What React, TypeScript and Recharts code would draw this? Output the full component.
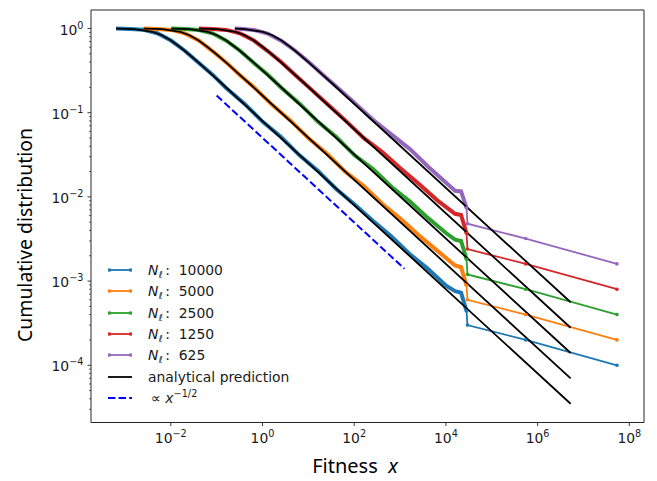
import { LineChart, Line, XAxis, YAxis, ReferenceArea } from 'recharts';

type P = [number, number];

// empirical cumulative distributions, dense part (x, P(X > x))
const blueBody: P[] = [
  [6.4e-4, 1.0], [1.28e-3, 0.99], [2.55e-3, 0.965], [5.08e-3, 0.88], [0.0101, 0.72],
  [0.0202, 0.545], [0.0404, 0.392], [0.0805, 0.285], [0.161, 0.197], [0.404, 0.128],
  [1.01, 0.078], [2.55, 0.0515], [6.4, 0.0312], [16.1, 0.0205], [40.4, 0.0124],
  [101, 0.0082], [255, 0.0052], [640, 0.0034], [1610, 0.0021], [4040, 0.0014],
  [10100, 0.00088], [15850, 0.00076], [21400, 0.00073], [28200, 0.00044],
];
const orangeBody: P[] = [
  [2.56e-3, 1.0], [5.12e-3, 0.99], [0.0102, 0.963], [0.0203, 0.875], [0.0406, 0.722],
  [0.0809, 0.54], [0.1615, 0.396], [0.322, 0.279], [0.643, 0.202], [1.615, 0.124],
  [4.06, 0.081], [10.2, 0.0495], [25.6, 0.0325], [64.3, 0.0198], [161.5, 0.0135],
  [406, 0.0083], [1020, 0.0055], [2560, 0.0035], [6430, 0.0023], [15850, 0.00153],
  [21400, 0.00146], [28200, 0.00089],
];
const greenBody: P[] = [
  [0.01024, 1.0], [0.0205, 0.99], [0.0408, 0.962], [0.0813, 0.878], [0.162, 0.716],
  [0.324, 0.545], [0.646, 0.39], [1.29, 0.284], [2.57, 0.198], [6.46, 0.128],
  [16.2, 0.078], [40.8, 0.0515], [102, 0.0312], [257, 0.0215], [646, 0.0132],
  [1620, 0.0089], [4080, 0.0056], [10200, 0.0037], [15850, 0.0031], [21400, 0.003],
  [28200, 0.00182],
];
const redBody: P[] = [
  [0.041, 1.0], [0.082, 0.99], [0.163, 0.963], [0.325, 0.876], [0.649, 0.72],
  [1.296, 0.54], [2.586, 0.397], [5.16, 0.28], [10.3, 0.2], [25.9, 0.127],
  [64.9, 0.0805], [163, 0.0498], [410, 0.034], [1030, 0.0218], [2590, 0.0142],
  [6490, 0.0091], [15850, 0.0063], [21400, 0.0061], [28200, 0.0037],
];
const purpleBody: P[] = [
  [0.249, 1.0], [0.327, 0.993], [0.654, 0.962], [1.3, 0.872], [2.6, 0.712],
  [5.19, 0.545], [10.3, 0.398], [20.7, 0.283], [41.2, 0.203], [103.5, 0.13],
  [260, 0.082], [653, 0.055], [1640, 0.037], [4120, 0.0228], [10350, 0.0145],
  [15850, 0.0118], [21400, 0.0116], [28200, 0.0074],
];

// sparse tails after the jump
const blueTail: P[] = [[28200, 0.00044], [29500, 0.0003], [550000, 0.0002], [5.37e7, 0.0001]];
const orangeTail: P[] = [[28200, 0.00089], [29500, 0.0006], [550000, 0.0004], [5.37e7, 0.0002]];
const greenTail: P[] = [[28200, 0.00182], [29500, 0.0012], [550000, 0.0008], [5.37e7, 0.0004]];
const redTail: P[] = [[28200, 0.0037], [29500, 0.0024], [550000, 0.0016], [5.37e7, 0.0008]];
const purpleTail: P[] = [[28200, 0.0074], [29500, 0.0048], [550000, 0.0032], [5.37e7, 0.0016]];

// analytical prediction curves
const blueTheory: P[] = [
  [6.4e-4, 0.998], [1.61e-3, 0.984], [4.04e-3, 0.912], [6.4e-3, 0.832], [0.01014, 0.72],
  [0.01606, 0.6], [0.0255, 0.488], [0.0404, 0.394], [0.064, 0.314], [0.1277, 0.224],
  [0.255, 0.158], [5.25e6, 3.49e-5],
];
const orangeTheory: P[] = [
  [2.56e-3, 0.998], [6.43e-3, 0.984], [0.01616, 0.912], [0.0256, 0.832], [0.0406, 0.72],
  [0.0642, 0.6], [0.102, 0.488], [0.1616, 0.394], [0.256, 0.314], [0.511, 0.224],
  [1.02, 0.158], [5.25e6, 6.98e-5],
];
const greenTheory: P[] = [
  [0.01024, 0.998], [0.0257, 0.984], [0.0646, 0.912], [0.1024, 0.832], [0.162, 0.72],
  [0.257, 0.6], [0.408, 0.488], [0.646, 0.394], [1.024, 0.314], [2.04, 0.224],
  [4.08, 0.158], [5.25e6, 1.4e-4],
];
const redTheory: P[] = [
  [0.041, 0.998], [0.103, 0.984], [0.258, 0.912], [0.41, 0.832], [0.649, 0.72],
  [1.03, 0.6], [1.63, 0.488], [2.58, 0.394], [4.1, 0.314], [8.17, 0.224],
  [16.3, 0.158], [5.25e6, 2.79e-4],
];
const purpleTheory: P[] = [
  [0.249, 0.996], [0.412, 0.984], [1.03, 0.912], [1.64, 0.832], [2.6, 0.72],
  [4.12, 0.6], [6.53, 0.488], [10.3, 0.394], [16.4, 0.314], [32.7, 0.224],
  [65.3, 0.158], [5.25e6, 5.6e-4],
];

// reference slope x^(-1/2)
const slopeGuide: P[] = [[0.1, 0.16], [1250, 0.0014]];

const seriesLabels = ['10000', '5000', '2500', '1250', '625'];
const seriesColors = ['#1f77b4', '#ff7f0e', '#2ca02c', '#d62728', '#9467bd'];
const bodies = [blueBody, orangeBody, greenBody, redBody, purpleBody];
const tails = [blueTail, orangeTail, greenTail, redTail, purpleTail];
const theories = [blueTheory, orangeTheory, greenTheory, redTheory, purpleTheory];

const xTicks = [1e-2, 1, 1e2, 1e4, 1e6, 1e8];
const yMajorTicks = [1e-4, 1e-3, 1e-2, 1e-1, 1];
const yMinorTicks = [-5, -4, -3, -2, -1]
  .flatMap((d) => [2, 3, 4, 5, 6, 7, 8, 9].map((s) => s * Math.pow(10, d)))
  .filter((v) => v > 2.1e-5);

const xDomain: [number, number] = [1.82e-4, 2.09e8];
const yDomain: [number, number] = [2.09e-5, 1.66];

const FONT = 'DejaVu Sans';
const pts = (a: P[]) => a.map(([x, y]) => ({ x, y }));
const expLabel = (v: number) => {
  const e = Math.round(Math.log10(v));
  return e < 0 ? '\u2212' + -e : String(e);
};

const XTick = ({ x, y, payload }: any) => (
  <g>
    <line x1={x} x2={x} y1={y} y2={y + 3.5} stroke="#222" strokeWidth={0.9} />
    <text x={x} y={y + 20.5} textAnchor="middle" fontFamily={FONT} fontSize={13.9} fill="#1a1a1a">
      10<tspan dy={-6} fontSize={9.7}>{expLabel(payload.value)}</tspan>
    </text>
  </g>
);

const YTick = ({ x, y, payload }: any) => {
  const major = yMajorTicks.includes(payload.value);
  return (
    <g>
      <line x1={x} x2={x - (major ? 3.5 : 2)} y1={y} y2={y} stroke="#222" strokeWidth={major ? 0.9 : 0.7} />
      {major && (
        <text x={x - 7.5} y={y + 6} textAnchor="end" fontFamily={FONT} fontSize={13.9} fill="#1a1a1a">
          10<tspan dy={-6} fontSize={9.7}>{expLabel(payload.value)}</tspan>
        </text>
      )}
    </g>
  );
};

const Handle = ({ color, dots, dashed }: { color: string; dots?: boolean; dashed?: boolean }) => (
  <svg width={24} height={10} style={{ display: 'block' }}>
    <line x1={0} x2={24} y1={5} y2={5} stroke={color} strokeWidth={dashed ? 2 : 1.8}
      strokeDasharray={dashed ? '7.4 3.2' : undefined} />
    {dots && <circle cx={1.5} cy={5} r={1.8} fill={color} />}
    {dots && <circle cx={22.5} cy={5} r={1.8} fill={color} />}
  </svg>
);

const rowStyle = { height: 21.33, display: 'flex', alignItems: 'center' } as const;
const textStyle = { marginLeft: 16, whiteSpace: 'nowrap' } as const;

function ChartLegend() {
  return (
    <div style={{ position: 'absolute', left: 100, top: 251.3, fontFamily: FONT, fontSize: 13.9, color: '#1a1a1a' }}>
      {seriesLabels.map((lab, i) => (
        <div key={lab} style={rowStyle}>
          <Handle color={seriesColors[i]} dots />
          <span style={textStyle}>
            <i>N</i>
            <i style={{ fontSize: 9.7, position: 'relative', top: 3 }}>ℓ</i>
            {'\u2009:\u00a0\u00a0' + lab}
          </span>
        </div>
      ))}
      <div style={rowStyle}>
        <Handle color="#000" />
        <span style={textStyle}>analytical prediction</span>
      </div>
      <div style={rowStyle}>
        <Handle color="#0000ff" dashed />
        <span style={{ ...textStyle, marginLeft: 19 }}>
          <span style={{ fontSize: 13.9 }}>∝</span> <i>x</i>
          <span style={{ fontSize: 9.7, position: 'relative', top: -6 }}>−1/2</span>
        </span>
      </div>
    </div>
  );
}

export default function App() {
  return (
    <div style={{ position: 'relative', width: 641, height: 473 }}>
      <LineChart width={641} height={465} margin={{ top: 2, right: 5, bottom: 0, left: 0 }}>
        <XAxis
          dataKey="x" type="number" scale="log" domain={xDomain} allowDataOverflow
          ticks={xTicks} interval={0} tick={<XTick />} tickLine={false} axisLine={false}
          tickSize={0} tickMargin={0} height={50.5}
        />
        <YAxis
          type="number" scale="log" domain={yDomain} allowDataOverflow
          ticks={[...yMajorTicks, ...yMinorTicks]} interval={0} tick={<YTick />}
          tickLine={false} axisLine={false} tickSize={0} tickMargin={0} width={83}
        />
        {bodies.map((d, i) => (
          <Line key={'b' + i} data={pts(d)} dataKey="y" stroke={seriesColors[i]} strokeWidth={4}
            dot={false} isAnimationActive={false} />
        ))}
        {tails.map((d, i) => (
          <Line key={'t' + i} data={pts(d)} dataKey="y" stroke={seriesColors[i]} strokeWidth={1.8}
            dot={{ r: 1.8, fill: seriesColors[i], stroke: seriesColors[i], strokeWidth: 0 }}
            isAnimationActive={false} />
        ))}
        {theories.map((d, i) => (
          <Line key={'a' + i} data={pts(d)} dataKey="y" stroke="#000" strokeWidth={1.8}
            dot={false} isAnimationActive={false} />
        ))}
        <Line data={pts(slopeGuide)} dataKey="y" stroke="#0000ff" strokeWidth={2}
          strokeDasharray="7.4 3.2" dot={false} isAnimationActive={false} />
        <ReferenceArea x1={xDomain[0]} x2={xDomain[1]} y1={yDomain[0]} y2={yDomain[1]}
          fill="none" fillOpacity={0} stroke="#262626" strokeWidth={1} ifOverflow="visible" />
      </LineChart>
      <ChartLegend />
      <svg width={641} height={473} style={{ position: 'absolute', left: 0, top: 0, pointerEvents: 'none' }}>
        <text transform="translate(24,227) rotate(-90)" textAnchor="middle" fontFamily="Noto Sans"
          fontSize={20} fill="#000" textLength={214} lengthAdjust="spacingAndGlyphs">
          Cumulative distribution
        </text>
        <text x={347} y={465} textAnchor="middle" fontFamily="Noto Sans" fontSize={20} fill="#000">
          Fitness{'\u00a0\u00a0'}<tspan fontStyle="italic">x</tspan>
        </text>
      </svg>
    </div>
  );
}
